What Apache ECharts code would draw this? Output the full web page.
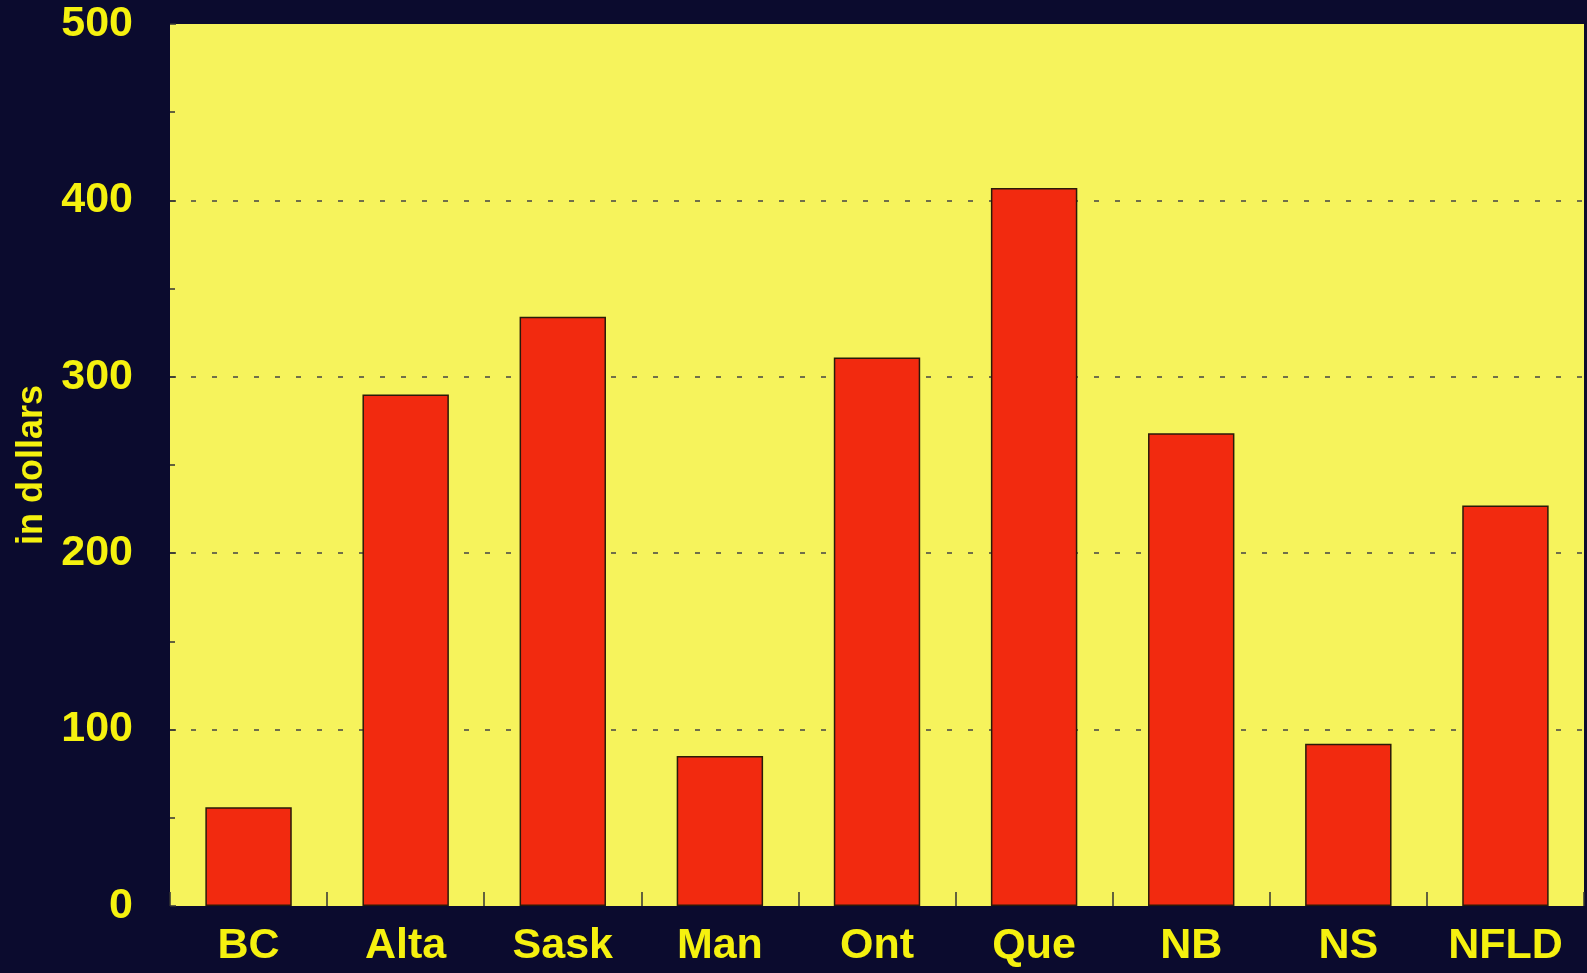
<!DOCTYPE html>
<html>
<head>
<meta charset="utf-8">
<script src="https://cdn.jsdelivr.net/npm/echarts@6/dist/echarts.min.js"></script>
<style>
  html, body { margin: 0; padding: 0; background: #0b0b2e; }
  #chart { width: 1587px; height: 973px; }
</style>
</head>
<body>
<div id="chart"></div>
<script>
// provinces along the x axis
var provinces = ['BC', 'Alta', 'Sask', 'Man', 'Ont', 'Que', 'NB', 'NS', 'NFLD'];
// bar values, in dollars
var dollars = [56, 290, 334, 85, 311, 407, 268, 92, 227];
// y axis range
var yMin = 0;
var yMax = 500;
var yStep = 100;

var myChart = echarts.init(document.getElementById('chart'));

var labelFont = {
  color: '#f5f10f',
  fontFamily: 'Liberation Sans, Arial, sans-serif',
  fontWeight: 'bold',
  fontSize: 43
};

myChart.setOption({
  backgroundColor: '#0b0b2e',
  animation: false,
  grid: {
    left: 170,
    right: 3,
    top: 24,
    bottom: 67,
    show: true,
    backgroundColor: '#f6f35c',
    borderWidth: 0
  },
  xAxis: {
    type: 'category',
    data: provinces,
    axisLine: { show: false },
    axisTick: {
      show: true,
      inside: true,
      length: 14,
      interval: 0,
      lineStyle: { color: '#333', width: 1.5 }
    },
    axisLabel: Object.assign({ margin: 19, interval: 0 }, labelFont),
    splitLine: { show: false }
  },
  yAxis: {
    type: 'value',
    min: yMin,
    max: yMax,
    interval: yStep,
    name: 'in dollars',
    nameLocation: 'middle',
    nameGap: 118,
    nameRotate: 90,
    nameTextStyle: {
      color: '#f5f10f',
      fontFamily: 'Liberation Sans, Arial, sans-serif',
      fontWeight: 'bold',
      fontSize: 36
    },
    axisLine: { show: false },
    axisTick: {
      show: true,
      inside: true,
      length: 6,
      lineStyle: { color: '#333', width: 1.5 }
    },
    minorTick: {
      show: true,
      splitNumber: 2,
      length: 5,
      lineStyle: { color: '#333', width: 1.5 }
    },
    axisLabel: Object.assign({ margin: 37 }, labelFont),
    splitLine: {
      show: true,
      showMinLine: false,
      showMaxLine: false,
      lineStyle: { color: '#444', width: 1.5, type: [5, 16] }
    }
  },
  series: [{
    type: 'bar',
    data: dollars,
    barCategoryGap: '45%',
    itemStyle: {
      color: '#f22a0f',
      borderColor: '#2a1a0a',
      borderWidth: 1.5
    }
  }]
});
</script>
</body>
</html>
